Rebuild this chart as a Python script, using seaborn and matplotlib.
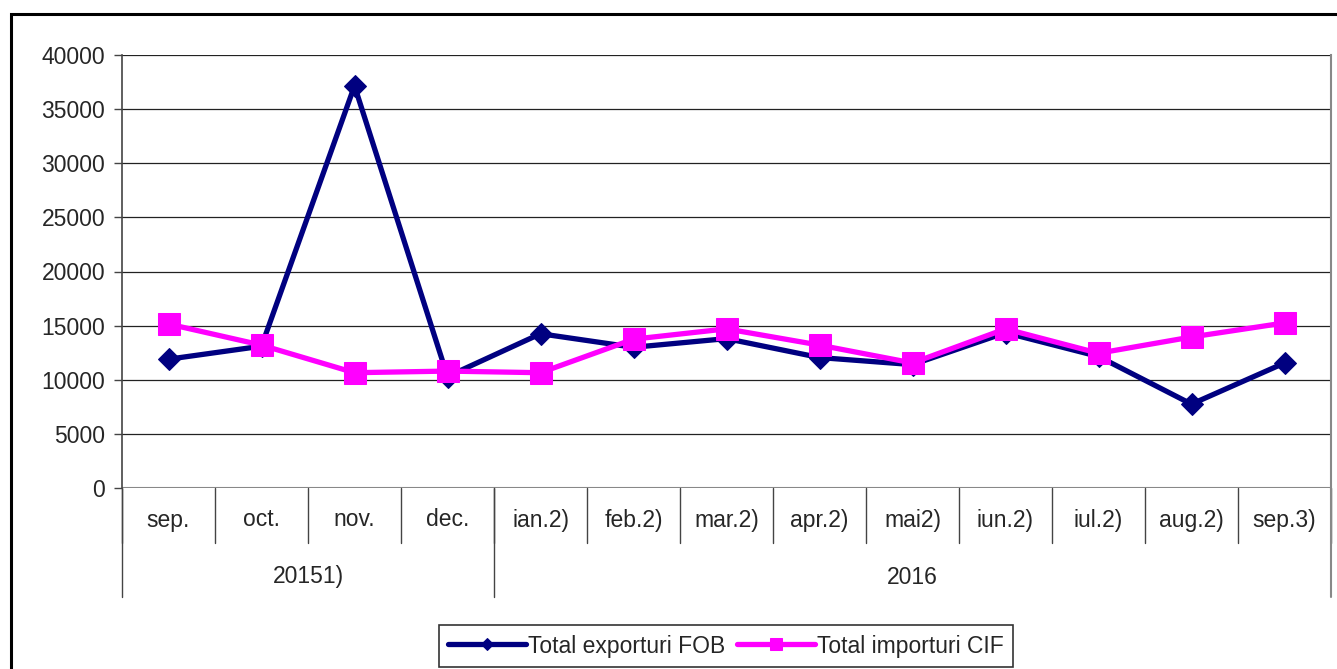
import numpy as np
import pandas as pd
import matplotlib
matplotlib.use("Agg")
import matplotlib.pyplot as plt
import matplotlib.transforms as mtransforms
from matplotlib.patches import Rectangle
import seaborn as sns

# data
months = ["sep.", "oct.", "nov.", "dec.", "ian.2)", "feb.2)", "mar.2)",
          "apr.2)", "mai2)", "iun.2)", "iul.2)", "aug.2)", "sep.3)"]
years = ["20151)", "2016"]
year_sizes = [4, 9]
exports_fob = [11900, 13100, 37150, 10300, 14250, 13000, 13800,
               12050, 11400, 14350, 12150, 7750, 11550]
imports_cif = [15150, 13200, 10650, 10800, 10650, 13750, 14700,
               13200, 11550, 14700, 12450, 13950, 15250]

df = pd.DataFrame({
    "pos": list(range(len(months))) * 2,
    "value": exports_fob + imports_cif,
    "series": ["Total exporturi FOB"] * len(months) + ["Total importuri CIF"] * len(months),
})

sns.set_style("white")
plt.rcParams["font.family"] = ["Liberation Sans", "DejaVu Sans"]

W, H = 1337, 669
fig = plt.figure(figsize=(W / 100, H / 100), dpi=100)
left, right, top, bottom = 122, 1331, 55, 488
ax = fig.add_axes([left / W, 1 - bottom / H, (right - left) / W, (bottom - top) / H])

# outer chart frame
fig.patches.append(Rectangle((11 / W, -0.05), 1.2, 1 - 14 / H + 0.05,
                             transform=fig.transFigure, fill=False,
                             edgecolor="black", linewidth=2.2, zorder=0))

styles = {"Total exporturi FOB": ("D", "#000080", 11.5),
          "Total importuri CIF": ("s", "#FF00FF", 16)}
for name, (mk, col, ms) in styles.items():
    sub = df[df["series"] == name]
    sns.lineplot(data=sub, x="pos", y="value", ax=ax, color=col, linewidth=3.8,
                 marker=mk, markersize=ms, markeredgecolor=col, label=name,
                 zorder=3 if mk == "s" else 2)

ax.set_xlim(-0.5, len(months) - 0.5)
ax.set_ylim(0, 40000)
ax.set_yticks(np.arange(0, 40001, 5000))
ax.yaxis.grid(True, color="#222222", linewidth=0.9)
ax.set_xticks([])
ax.set_xlabel("")
ax.set_ylabel("")
ax.tick_params(axis="y", left=True, length=6, width=1, color="#444444",
               labelsize=16.5, pad=6)
for s in ["top", "bottom"]:
    ax.spines[s].set_visible(False)
ax.spines["left"].set_color("#444444")
ax.spines["right"].set_color("#888888")
ax.spines["left"].set_linewidth(1.2)
ax.spines["right"].set_linewidth(1.5)
ax.axhline(0, color="#888888", linewidth=1.5)

# category axis: months and years
trans = mtransforms.blended_transform_factory(ax.transData, ax.transAxes)
ph = bottom - top
m_sep = -55 / ph
y_sep = -109 / ph
for i, m in enumerate(months):
    ax.text(i, -32 / ph, m, transform=trans, ha="center", va="center",
            fontsize=16.5, clip_on=False)
for b in np.arange(-0.5, len(months), 1.0):
    ax.plot([b, b], [0, m_sep], transform=trans, color="#444444",
            linewidth=1, clip_on=False)
start = -0.5
for yname, n in zip(years, year_sizes):
    ax.plot([start, start], [0, y_sep], transform=trans, color="#444444",
            linewidth=1, clip_on=False)
    ax.text(start + n / 2, -89 / ph, yname, transform=trans, ha="center",
            va="center", fontsize=16.5, clip_on=False)
    start += n
ax.plot([start, start], [0, y_sep], transform=trans, color="#888888",
        linewidth=1.5, clip_on=False)

leg = ax.legend(loc="center", bbox_to_anchor=(726 / W, 1 - 646 / H),
                bbox_transform=fig.transFigure, ncol=2, frameon=True,
                fontsize=16.5, handlelength=3.4, handletextpad=0.1,
                columnspacing=0.5, borderpad=0.4, borderaxespad=0,
                fancybox=False, markerscale=0.55)
leg.get_frame().set_edgecolor("black")
leg.get_frame().set_linewidth(1.2)

fig.savefig("out.png", dpi=100)
